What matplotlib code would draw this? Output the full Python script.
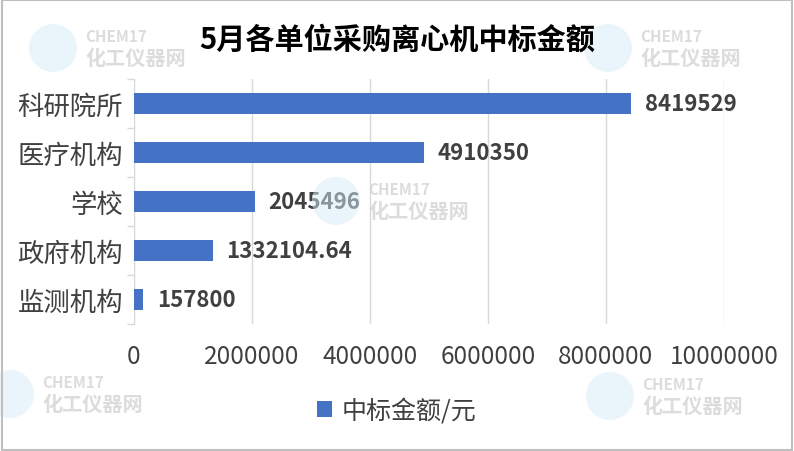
import matplotlib
matplotlib.use("Agg")
import matplotlib.pyplot as plt
from matplotlib.patches import Rectangle, Circle

plt.rcParams['font.family'] = ['Noto Sans CJK SC', 'DejaVu Sans']

# data
categories = ["科研院所", "医疗机构", "学校", "政府机构", "监测机构"]
values = [8419529, 4910350, 2045496, 1332104.64, 157800]
value_labels = ["8419529", "4910350", "2045496", "1332104.64", "157800"]
xticks = [0, 2000000, 4000000, 6000000, 8000000, 10000000]
title = "5月各单位采购离心机中标金额"
legend_label = "中标金额/元"

bar_color = "#4472C4"
text_color = "#404040"

W, H = 794, 452
fig = plt.figure(figsize=(W / 100, H / 100), dpi=100)
ax = fig.add_axes([0.1688, 0.281, 0.743, 0.542])

ypos = list(range(len(categories)))
bars = ax.barh(ypos, values, height=0.41, color=bar_color, label=legend_label, zorder=3)

for y, v, lab in zip(ypos, values, value_labels):
    ax.annotate(lab, (v, y), xytext=(10, 0), textcoords="offset points",
                va="center", ha="left", fontsize=16, fontweight="bold",
                color=text_color, zorder=4)

ax.set_ylim(4.5, -0.5)
ax.set_xlim(0, 10000000)
ax.set_xticks(xticks)
ax.set_xticklabels([str(t) for t in xticks], fontsize=17.5, color=text_color)
ax.set_yticks(ypos)
ax.set_yticklabels(categories, fontsize=19, color=text_color)
ax.set_yticks([i - 0.5 for i in range(len(categories) + 1)], minor=True)
ax.tick_params(axis="y", which="major", length=0, pad=8)
ax.tick_params(axis="y", which="minor", length=5, color="#d9d9d9", width=1)
ax.tick_params(axis="x", length=0, pad=14)
ax.grid(axis="x", color="#d9d9d9", linewidth=1, zorder=0)
for s in ["top", "right", "bottom"]:
    ax.spines[s].set_visible(False)
ax.spines["left"].set_color("#d9d9d9")

fig.text(0.5, 1 - 40 / H, title, ha="center", va="center", fontsize=21,
         fontweight="bold", color="black")

fig.legend(handles=[bars], labels=[legend_label], loc="center",
           bbox_to_anchor=(0.5, 1 - 412 / H), frameon=False, fontsize=18,
           handlelength=0.6, handleheight=0.6, handletextpad=0.4,
           labelcolor=text_color)

# faint watermarks (pixel positions of the text block's left edge, top row centre)
for px, py in [(85, 37), (640, 37), (368, 190), (42, 383), (642, 385)]:
    fig.patches.append(Circle((px - 32, H - (py + 12)), 24, transform=None,
                              facecolor="#d6ecf8", edgecolor="none", alpha=0.5, zorder=0))
    fig.text(px / W, 1 - py / H, "CHEM17", fontsize=11, fontweight="bold",
             color="#d4d4d4", alpha=0.8, ha="left", va="center", zorder=1)
    fig.text(px / W, 1 - (py + 21) / H, "化工仪器网", fontsize=14.5, fontweight="bold",
             color="#d4d4d4", alpha=0.8, ha="left", va="center", zorder=1)

# outer border
fig.patches.append(Rectangle((0.002, 0.003), 0.996, 0.994, transform=fig.transFigure,
                             fill=False, edgecolor="#bfbfbf", linewidth=1.5))

fig.savefig("out.png", dpi=100)
